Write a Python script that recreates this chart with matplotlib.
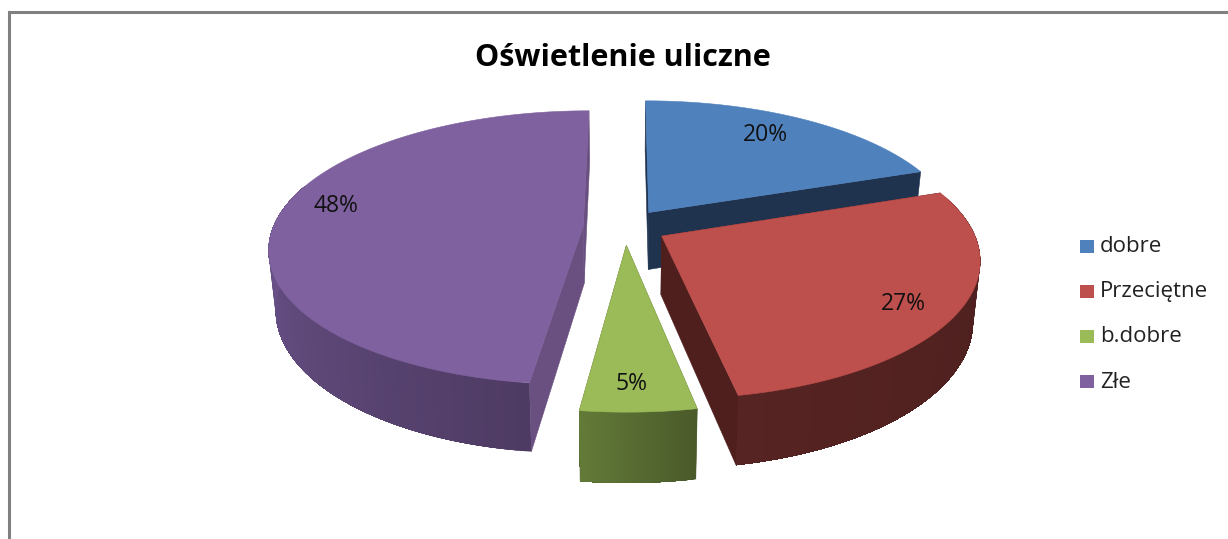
"""Exploded 3D pie chart of street lighting ratings, drawn with plain polygons."""

import matplotlib

matplotlib.use("Agg")
import matplotlib.pyplot as plt  # noqa:E402
import numpy as np  # noqa:E402
from matplotlib.colors import to_rgb  # noqa:E402
from matplotlib.patches import Polygon, Rectangle  # noqa:E402

TITLE = "Oświetlenie uliczne"
categories = ["dobre", "Przeciętne", "b.dobre", "Złe"]
percent = [19.6, 27.4, 5, 48]

top_colors = ["#4f81bd", "#bd4f4c", "#9bbb59", "#7f619f"]
cut_colors = ["#1f334f", "#4f1f1e", "#4a5a2a", "#6a5080"]
wall_from = ["#1f334f", "#4a1e1d", "#4a5a2a", "#4e3b63"]
wall_to = ["#1f334f", "#562422", "#637a38", "#715893"]

# pie geometry in image pixels
CX, CY = 625, 227
RX, RY = 310, 133.7
PERSPECTIVE = 0.159
EXPLODE = 0.135
DEPTH = 58
BOTTOM_SHRINK = 0.98
LABEL_R = 0.82
label_nudge = [(-12, 1), (1, 8), (-4, 7), (4, -13)]
FONT = "Open Sans"


def project(r, theta, mid, depth=0.0):
    """Map polar coords on a slice (clockwise from 12 o'clock) to image pixels."""
    u = EXPLODE * np.sin(mid) + r * np.sin(theta)
    v = EXPLODE * np.cos(mid) + r * np.cos(theta)
    s = 1 / (1 + PERSPECTIVE * v)
    shrink = BOTTOM_SHRINK if depth else 1.0
    return CX + RX * u * s * shrink, CY - RY * v * s + depth * s


def draw_slice(ax, i, start, end, zorder):
    mid = (start + end) / 2
    thetas = np.linspace(start, end, 160)

    # flat walls along both cut edges
    for edge in (start, end):
        quad = [
            project(0, edge, mid),
            project(1, edge, mid),
            project(1, edge, mid, DEPTH),
            project(0, edge, mid, DEPTH),
        ]
        ax.add_patch(Polygon(quad, fc=cut_colors[i], ec=cut_colors[i], lw=0.4, zorder=zorder))

    # rim wall, shaded along the part that faces the viewer; each band runs to
    # the far end and the next one paints over it, so no seams show through
    visible = thetas[np.cos(thetas) < 0.32]
    c0, c1 = np.array(to_rgb(wall_from[i])), np.array(to_rgb(wall_to[i]))
    for j in range(len(visible) - 1):
        color = c0 + (c1 - c0) * j / max(len(visible) - 2, 1)
        rest = visible[j:]
        outline = [project(1, t, mid) for t in rest]
        outline += [project(1, t, mid, DEPTH) for t in rest[::-1]]
        ax.add_patch(Polygon(outline, fc=color, ec="none", zorder=zorder))

    # top face
    rim = [project(1, t, mid) for t in thetas]
    face = [project(0, start, mid)] + rim
    ax.add_patch(Polygon(face, fc=top_colors[i], ec=top_colors[i], lw=0.4, zorder=zorder + 0.5))

    lx, ly = project(LABEL_R, mid, mid)
    ax.text(lx + label_nudge[i][0], ly + label_nudge[i][1], f"{percent[i]:.0f}%",
            ha="center", va="center", fontsize=16.5, family=FONT, color="#111111", zorder=20)


fig = plt.figure(figsize=(12.28, 5.39), dpi=100)
ax = fig.add_axes([0, 0, 1, 1])
ax.set_xlim(0, 1228)
ax.set_ylim(539, 0)
ax.axis("off")

# chart border, cropped at the right and bottom of the image
ax.plot([8.5, 8.5, 1228], [539, 11.5, 11.5], color="#808080", lw=2.2, solid_joinstyle="miter")

ax.text(623, 58, TITLE, ha="center", va="center", fontsize=22, fontweight="bold",
        family=FONT, color="black")

edges = np.radians(np.cumsum([0] + percent) * 3.6)
for i in [0, 3, 1, 2]:
    draw_slice(ax, i, edges[i], edges[i + 1], 5 + i)

legend_y = np.linspace(246, 381, len(categories))
for name, color, y in zip(categories, top_colors, legend_y):
    ax.add_patch(Rectangle((1079.5, y - 6.5), 14, 13, fc=color, ec="none"))
    ax.text(1100, y + 1, name, ha="left", va="center", fontsize=16, family=FONT, color="#222222")

fig.savefig("out.png", dpi=100)
